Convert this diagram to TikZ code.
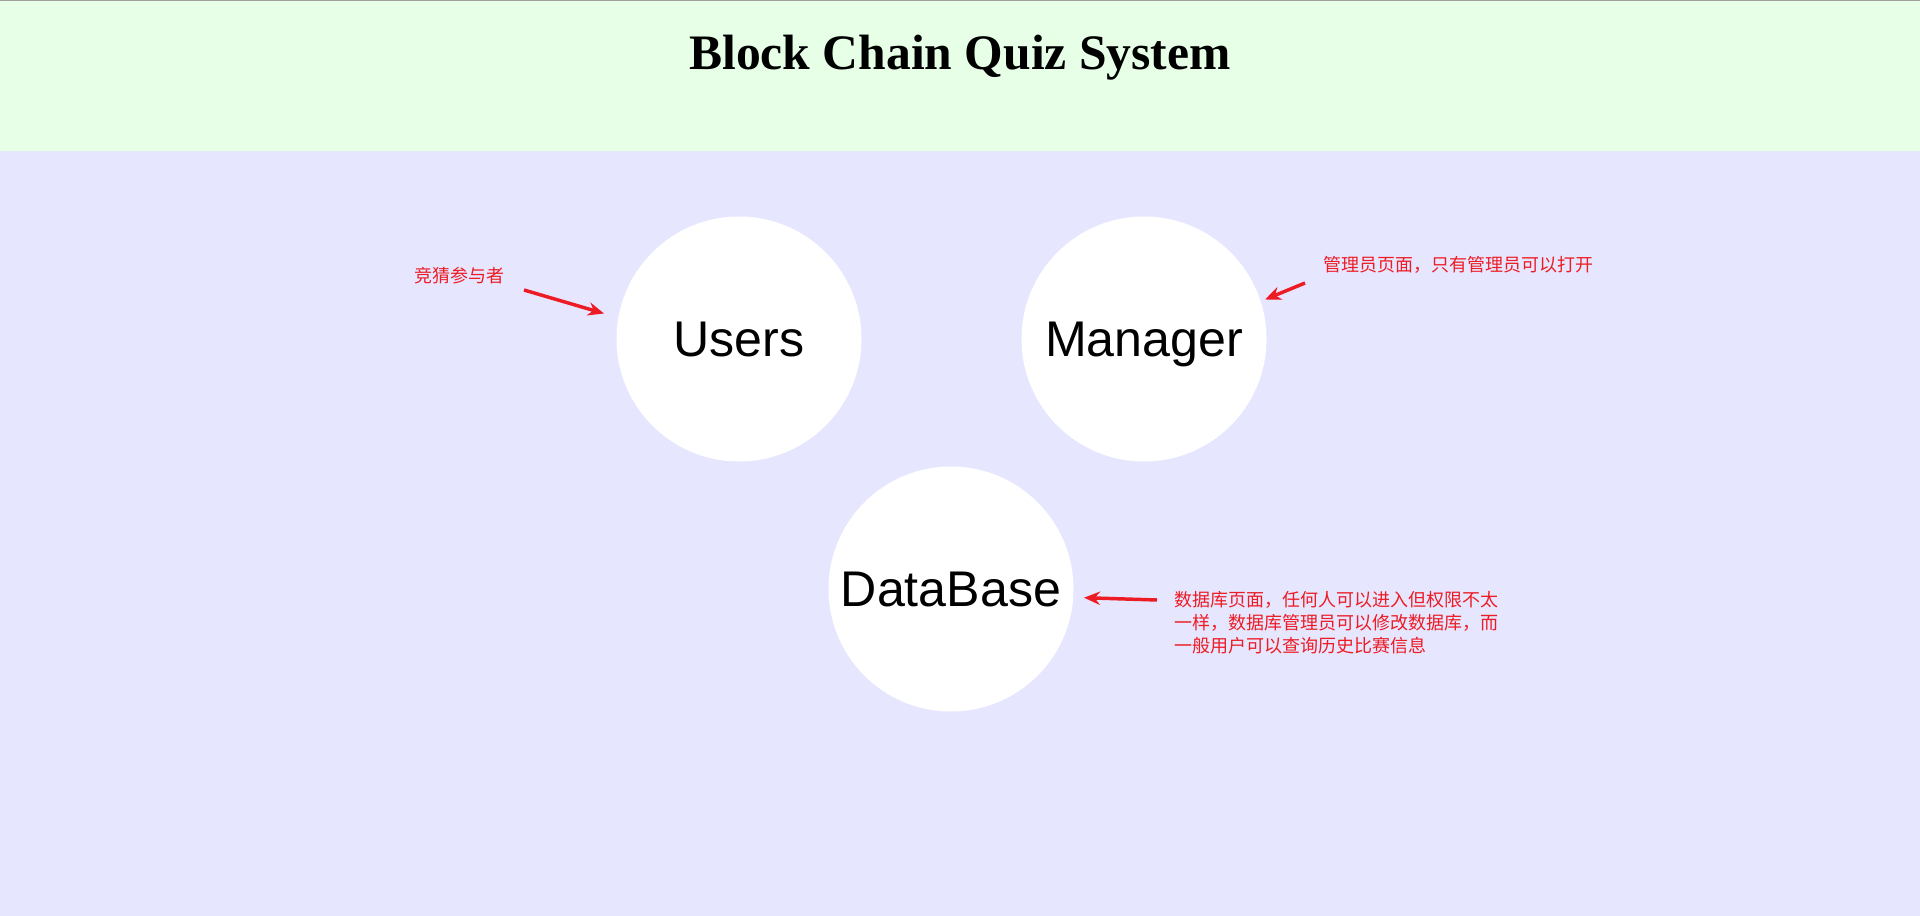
\documentclass[tikz,border=0pt]{standalone}
\usepackage{fontspec}
\setmainfont{Liberation Serif}
\newfontfamily\cjk{Noto Sans CJK SC}
\newfontfamily\arialf{Liberation Sans}
\usetikzlibrary{arrows.meta}
\definecolor{bandgreen}{RGB}{230,255,230}
\definecolor{bglav}{RGB}{230,230,255}
\definecolor{annred}{RGB}{237,28,36}
\definecolor{edgegray}{RGB}{160,160,160}
\begin{document}
\begin{tikzpicture}[x=0.75pt,y=-0.75pt,
  entity/.style={circle,fill=white,minimum size=183.75pt,inner sep=0pt,
    font=\arialf\fontsize{37.6}{45}\selectfont,text height=26.9pt,text depth=0pt},
  note/.style={text=annred,font=\cjk\fontsize{13.5}{16.9}\selectfont,inner sep=0pt,anchor=west,align=left},
  pointer/.style={draw=annred,line width=2.6pt,-{Stealth[length=12pt,width=10pt]}},
  titlestyle/.style={font=\bfseries\fontsize{37.2}{44}\selectfont,anchor=base,inner sep=0pt}]
\useasboundingbox (0,0) rectangle (1920,916);
\fill[bglav] (0,0) rectangle (1920,916);
\fill[bandgreen] (0,0) rectangle (1920,151);
\draw[edgegray,line width=0.75pt] (0,0.5) -- (1920,0.5);
\node[titlestyle] (title) at (960,69.3) {Block Chain Quiz System};
\node[entity] (users) at (739,339) {Users};
\node[entity] (manager) at (1144,339) {Manager};
\node[entity] (database) at (951,589) {DataBase};
\node[note] (noteusers) at (414,276) {竞猜参与者};
\node[note] (notemanager) at (1323,265) {管理员页面，只有管理员可以打开};
\node[note] (notedb) at (1174,622.7) {数据库页面，任何人可以进入但权限不太\\一样，数据库管理员可以修改数据库，而\\一般用户可以查询历史比赛信息};
\coordinate (su) at (524,290);
\coordinate (tu) at (604,313.5);
\coordinate (sm) at (1305,283);
\coordinate (tm) at (1265,299.5);
\coordinate (sd) at (1157,600);
\coordinate (td) at (1084,597.7);
\draw[pointer] (su) -- (tu);
\draw[pointer] (sm) -- (tm);
\draw[pointer] (sd) -- (td);
\end{tikzpicture}
\end{document}
